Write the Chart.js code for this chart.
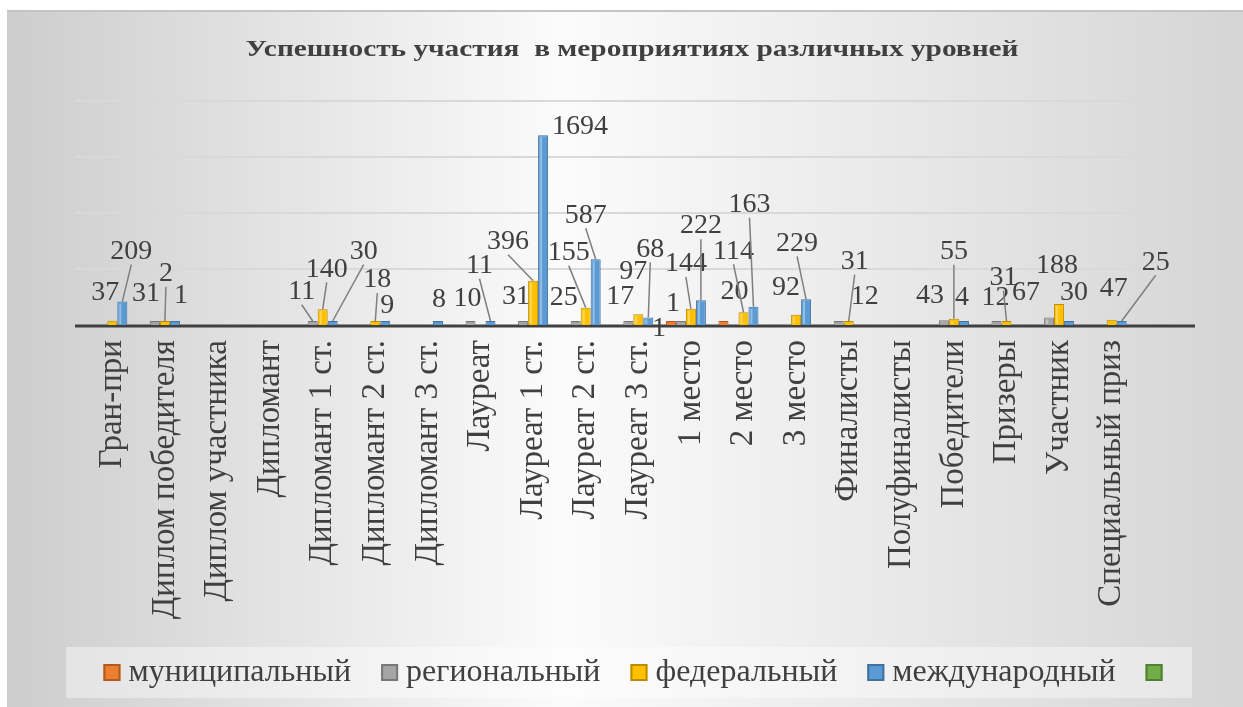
<!DOCTYPE html>
<html lang="ru">
<head>
<meta charset="utf-8">
<title>Успешность участия в мероприятиях различных уровней</title>
<script src="https://cdn.jsdelivr.net/npm/chart.js@4.4.1/dist/chart.umd.min.js"></script>
<style>
  html, body { margin: 0; padding: 0; background: #fff; }
  #contenedor { width: 1243px; height: 707px; position: relative; }
</style>
</head>
<body>
<div id="contenedor"><canvas id="grafico"></canvas></div>
<script>
// Categorías del eje X
const categorias = [
  "Гран-при", "Диплом победителя", "Диплом участника", "Дипломант",
  "Дипломант 1 ст.", "Дипломант 2 ст.", "Дипломант 3 ст.", "Лауреат",
  "Лауреат 1 ст.", "Лауреат 2 ст.", "Лауреат 3 ст.", "1 место",
  "2 место", "3 место", "Финалисты", "Полуфиналисты",
  "Победители", "Призеры", "Участник", "Специальный приз",
];

// Valores por nivel (null = celda vacía)
const municipal = [null, null, null, null, null, null, null, null, null, null, null, 1, 20, null, null, null, null, null, null, null];
const regional = [null, 31, null, null, 11, null, null, 10, 31, 25, 17, 1, null, null, 12, null, 43, 12, 67, null];
const federal = [37, 2, null, null, 140, 18, null, null, 396, 155, 97, 144, 114, 92, 31, null, 55, 31, 188, 47];
const internacional = [209, 1, null, null, 30, 9, 8, 11, 1694, 587, 68, 222, 163, 229, null, null, 4, null, 30, 25];
const otro = categorias.map(() => null);

const nombresSeries = ["муниципальный", "региональный", "федеральный", "международный", ""];
const ticksY = [0, 500, 1000, 1500, 2000];
const titulo = "Успешность участия  в мероприятиях различных уровней";

const colores = ["#ed7d31", "#a5a5a5", "#ffc000", "#5b9bd5", "#70ad47"];
const bordes = ["#ae5a21", "#787878", "#bc8c00", "#41719c", "#507e32"];

// Desplazamiento de cada etiqueta respecto a la cima de su barra: [dx, dy, línea guía]
const desplazamientos = {
  "2-0": [-7, -28], "3-0": [9, -50, true],
  "1-1": [-9, -28], "2-1": [1, -51, true], "3-1": [6, -29],
  "1-4": [-11, -32, true], "2-4": [4, -40, true], "3-4": [31, -70, true],
  "2-5": [2, -43, true], "3-5": [2, -18],
  "3-6": [1, -24],
  "1-7": [-3, -25], "3-7": [-11, -58, true],
  "1-8": [-7, -25], "2-8": [-25, -39, true], "3-8": [37, -9],
  "1-9": [-12, -25], "2-9": [-17, -55, true], "3-9": [-10, -44, true],
  "1-10": [-8, -26], "2-10": [-5, -42], "3-10": [2, -68, true],
  "0-11": [-12, 4], "1-11": [-8, -21], "2-11": [-5, -45, true], "3-11": [0, -74, true],
  "0-12": [11, -31], "2-12": [-10, -61, true], "3-12": [-4, -102, true],
  "2-13": [-10, -27], "3-13": [-9, -56, true],
  "1-14": [26, -27], "2-14": [6, -60, true],
  "1-16": [-14, -25], "2-16": [0, -67, true], "3-16": [-2, -27],
  "1-17": [-1, -26], "2-17": [-3, -44, true],
  "1-18": [-23, -25], "2-18": [-2, -38], "3-18": [5, -29],
  "2-19": [2, -31], "3-19": [34, -60, true],
};

// Fondo, título, cuadrícula y leyenda
const fondoPlugin = {
  id: "fondo",
  beforeDraw(chart) {
    const { ctx, width, height, chartArea, scales } = chart;
    ctx.save();
    ctx.fillStyle = "#ffffff";
    ctx.fillRect(0, 0, width, height);
    const grad = ctx.createLinearGradient(7, 0, width, 0);
    grad.addColorStop(0, "#cdcdcd");
    grad.addColorStop(0.45, "#fbfbfb");
    grad.addColorStop(1, "#d5d5d5");
    ctx.fillStyle = grad;
    ctx.fillRect(7, 10, width - 7, height - 10);
    ctx.fillStyle = "#c4c4c4";
    ctx.fillRect(7, 10, width - 7, 2);

    // Título (texto ensanchado horizontalmente como en la diapositiva)
    ctx.font = "bold 24px 'Liberation Serif'";
    ctx.textAlign = "center";
    ctx.textBaseline = "middle";
    ctx.fillStyle = "#404040";
    ctx.save();
    ctx.translate(632, 50);
    ctx.scale(773 / ctx.measureText(titulo).width, 1);
    ctx.fillText(titulo, 0, 0);
    ctx.restore();

    const y = scales.y;
    ctx.strokeStyle = "#d9d9d9";
    ctx.lineWidth = 2;
    ticksY.forEach((v) => {
      if (v === 0) return;
      const py = Math.round(y.getPixelForValue(v));
      ctx.beginPath();
      ctx.moveTo(chartArea.left - 10, py);
      ctx.lineTo(chartArea.right + 52, py);
      ctx.stroke();
    });

    // Leyenda
    ctx.fillStyle = "rgba(255,255,255,0.4)";
    ctx.fillRect(66, 647, 1126, 51);
    ctx.font = "32px 'Liberation Serif'";
    ctx.textAlign = "left";
    const anchos = nombresSeries.map((t) => 17 + (t ? 8 + ctx.measureText(t).width : 0));
    const total = anchos.reduce((a, b) => a + b, 0) + 30 * (anchos.length - 1);
    let x = 633 - total / 2;
    const yl = 672;
    chart.data.datasets.forEach((ds, i) => {
      ctx.fillStyle = ds.backgroundColor;
      ctx.fillRect(x, yl - 8, 17, 17);
      ctx.strokeStyle = ds.borderColor;
      ctx.lineWidth = 2;
      ctx.strokeRect(x + 1, yl - 7, 15, 15);
      ctx.fillStyle = "#404040";
      ctx.fillText(ds.label, x + 25, yl + 1);
      x += anchos[i] + 30;
    });
    ctx.restore();
  },
  beforeDatasetsDraw(chart) {
    const { ctx, chartArea, scales } = chart;
    const py0 = scales.y.getPixelForValue(0);
    ctx.save();
    ctx.strokeStyle = "#404040";
    ctx.lineWidth = 3;
    ctx.beginPath();
    ctx.moveTo(chartArea.left - 11, py0 + 1);
    ctx.lineTo(chartArea.right + 57, py0 + 1);
    ctx.stroke();
    ctx.restore();
  },
};

// Brillo de las barras y etiquetas de datos con líneas guía
const etiquetasPlugin = {
  id: "etiquetas",
  afterDatasetsDraw(chart) {
    const { ctx, scales } = chart;
    ctx.save();
    chart.data.datasets.forEach((ds, di) => {
      chart.getDatasetMeta(di).data.forEach((bar, i) => {
        if (ds.data[i] === null) return;
        const h = bar.base - bar.y;
        if (h < 6) return;
        ctx.fillStyle = "rgba(255,255,255,0.35)";
        ctx.fillRect(bar.x - bar.width / 2 + 2, bar.y + 2, 2, h - 3);
      });
    });
    ctx.font = "28px 'Liberation Serif'";
    ctx.textAlign = "center";
    ctx.textBaseline = "middle";
    chart.data.datasets.forEach((ds, di) => {
      const meta = chart.getDatasetMeta(di);
      meta.data.forEach((bar, i) => {
        const v = ds.data[i];
        if (v === null || v === undefined) return;
        const [dx, dy, linea] = desplazamientos[`${di}-${i}`] || [0, -22];
        const cima = scales.y.getPixelForValue(v);
        const lx = bar.x + dx;
        const ly = cima + dy;
        if (linea) {
          ctx.strokeStyle = "#7f7f7f";
          ctx.lineWidth = 1.5;
          ctx.beginPath();
          ctx.moveTo(lx, ly + 13);
          ctx.lineTo(bar.x, bar.y);
          ctx.stroke();
        }
        ctx.fillStyle = "#404040";
        ctx.fillText(String(v), lx, ly);
      });
    });
    ctx.restore();
  },
};

const series = [municipal, regional, federal, internacional, otro];

new Chart(document.getElementById("grafico"), {
  type: "bar",
  data: {
    labels: categorias,
    datasets: series.map((datos, i) => ({
      label: nombresSeries[i],
      data: datos,
      backgroundColor: colores[i],
      borderColor: bordes[i],
      borderWidth: 1,
      minBarLength: 4,
      categoryPercentage: 0.95,
      barPercentage: 1,
    })),
  },
  options: {
    responsive: true,
    maintainAspectRatio: false,
    animation: false,
    layout: { padding: { top: 101, left: 86, right: 66, bottom: 82 } },
    plugins: {
      legend: { display: false },
      tooltip: { enabled: false },
      title: { display: false },
    },
    scales: {
      x: {
        grid: { display: false, drawTicks: false },
        border: { display: false },
        ticks: {
          autoSkip: false,
          minRotation: 90,
          maxRotation: 90,
          padding: 15,
          color: "#404040",
          font: { family: "'Liberation Serif'", size: 33 },
        },
        afterFit: (scale) => { scale.height = 300; },
      },
      y: {
        position: "right",
        min: 0,
        max: 2000,
        grid: { display: false, drawTicks: false },
        border: { display: false },
        ticks: { display: false, stepSize: 500 },
        afterFit: (scale) => { scale.width = 39; },
      },
    },
  },
  plugins: [fondoPlugin, etiquetasPlugin],
});
</script>
</body>
</html>
